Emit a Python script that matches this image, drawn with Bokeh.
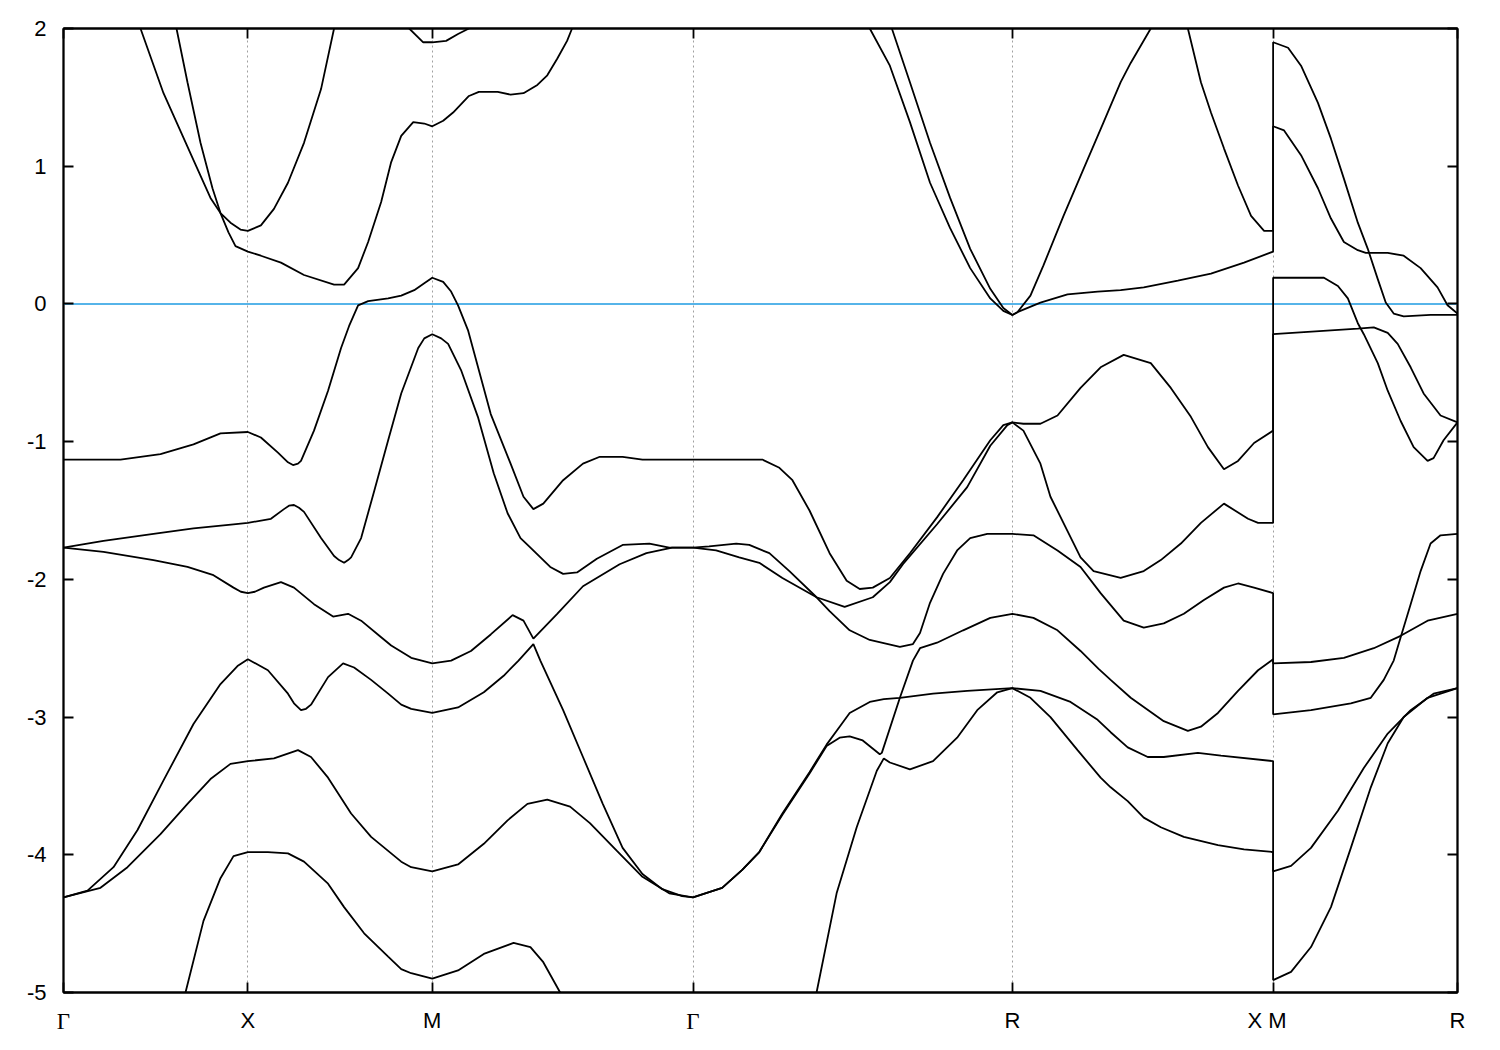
from bokeh.plotting import figure
from bokeh.models import Range1d, FixedTicker, LinearAxis, Span
from bokeh.embed import file_html
from bokeh.resources import INLINE
from bokeh.core.properties import value

# high-symmetry path (k in units of 2*pi/a)
K_PTS = [0.0, 0.5, 1.0, 1.7071, 2.5731, 3.2802, 3.7802]
K_LABELS = ["Γ", "X", "M", "Γ", "R", "X   M", "R"]
E_TICKS = [-5, -4, -3, -2, -1, 0, 1, 2]
E_MIN, E_MAX = -5.0, 2.0
E_FERMI = 0.0

band1 = [(0.0, -6.5), (0.3308, -5.0), (0.3796, -4.48), (0.4257, -4.17), (0.4610, -4.01), (0.5, -3.98),
         (0.5543, -3.98), (0.6087, -3.99), (0.6522, -4.05), (0.7174, -4.21), (0.7609, -4.38), (0.8152, -4.57),
         (0.8804, -4.74), (0.9158, -4.83), (0.9429, -4.86), (1.0, -4.90), (1.0699, -4.84), (1.1398, -4.72),
         (1.2205, -4.64), (1.2662, -4.67), (1.3011, -4.78), (1.3468, -5.0), (1.7071, -6.5), (2.0421, -5.0),
         (2.0965, -4.28), (2.1510, -3.80), (2.2055, -3.39), (2.2245, -3.30), (2.2409, -3.33), (2.2953, -3.38),
         (2.3580, -3.32), (2.4233, -3.15), (2.4778, -2.95), (2.5322, -2.82), (2.5731, -2.79), (2.6221, -2.86),
         (2.6764, -3.00), (2.7499, -3.24), (2.8124, -3.44), (2.8396, -3.51), (2.8859, -3.61), (2.9294, -3.73),
         (2.9756, -3.80), (3.0381, -3.87), (3.1306, -3.93), (3.2013, -3.96), (3.2802, -3.98), (3.2802, -4.91),
         (3.3288, -4.85), (3.3829, -4.67), (3.4370, -4.38), (3.4910, -3.95), (3.5451, -3.51), (3.5910, -3.19),
         (3.6343, -3.00), (3.6991, -2.86), (3.7802, -2.79)]

band2 = [(0.0, -4.31), (0.1003, -4.24), (0.1735, -4.09), (0.2630, -3.85), (0.3362, -3.63), (0.3986, -3.45),
         (0.4528, -3.34), (0.5, -3.32), (0.5707, -3.30), (0.6359, -3.24), (0.6712, -3.29), (0.7174, -3.44),
         (0.7799, -3.70), (0.8342, -3.87), (0.9158, -4.05), (0.9429, -4.09), (1.0, -4.12), (1.0699, -4.07),
         (1.1398, -3.92), (1.2043, -3.75), (1.2581, -3.63), (1.3119, -3.60), (1.3737, -3.65), (1.4275, -3.77),
         (1.5001, -3.97), (1.5700, -4.16), (1.6426, -4.28), (1.7071, -4.31), (1.7861, -4.24), (1.8405, -4.11),
         (1.8868, -3.98), (1.9495, -3.71), (2.0230, -3.41), (2.0693, -3.21), (2.1047, -3.15), (2.1319, -3.14),
         (2.1673, -3.17), (2.2136, -3.27), (2.2191, -3.26), (2.2681, -2.86), (2.3580, -2.83), (2.4506, -2.81),
         (2.5731, -2.79), (2.6492, -2.81), (2.7308, -2.89), (2.8043, -3.02), (2.8396, -3.11), (2.8859, -3.22),
         (2.9402, -3.29), (2.9837, -3.29), (3.0762, -3.26), (3.1388, -3.28), (3.2802, -3.32), (3.2802, -4.12),
         (3.3288, -4.08), (3.3829, -3.95), (3.4559, -3.68), (3.5261, -3.37), (3.5910, -3.12), (3.6532, -2.95),
         (3.7153, -2.83), (3.7802, -2.79)]

band3 = [(0.0, -4.31), (0.0651, -4.26), (0.1356, -4.09), (0.2007, -3.82), (0.2712, -3.46), (0.3525, -3.05),
         (0.4257, -2.76), (0.4718, -2.63), (0.5, -2.58), (0.5543, -2.66), (0.6087, -2.83), (0.6250, -2.90),
         (0.6440, -2.95), (0.6576, -2.94), (0.6712, -2.91), (0.7174, -2.71), (0.7582, -2.61), (0.7880, -2.64),
         (0.8342, -2.73), (0.8804, -2.83), (0.9158, -2.91), (0.9429, -2.94), (1.0, -2.97), (1.0699, -2.93),
         (1.1398, -2.82), (1.1936, -2.70), (1.2339, -2.59), (1.2742, -2.47), (1.2931, -2.59), (1.3549, -2.95),
         (1.4087, -3.29), (1.4624, -3.63), (1.5162, -3.95), (1.5700, -4.14), (1.6238, -4.25), (1.6775, -4.30),
         (1.7071, -4.31), (1.7861, -4.24), (1.8405, -4.11), (1.8868, -3.98), (1.9495, -3.70), (2.0230, -3.40),
         (2.0693, -3.20), (2.1047, -3.07), (2.1319, -2.97), (2.1864, -2.89), (2.2245, -2.87), (2.2681, -2.86),
         (2.3035, -2.59), (2.3226, -2.50), (2.3688, -2.46), (2.4397, -2.37), (2.5132, -2.28), (2.5731, -2.25),
         (2.6302, -2.28), (2.6955, -2.37), (2.7580, -2.52), (2.8070, -2.65), (2.8396, -2.73), (2.8940, -2.86),
         (2.9837, -3.03), (3.0490, -3.10), (3.0844, -3.07), (3.1306, -2.97), (3.1850, -2.81), (3.2394, -2.66),
         (3.2802, -2.58), (3.2802, -2.98), (3.3829, -2.95), (3.4910, -2.90), (3.5451, -2.86), (3.5802, -2.73),
         (3.6072, -2.59), (3.6261, -2.42), (3.6532, -2.18), (3.6802, -1.94), (3.7072, -1.74), (3.7342, -1.68),
         (3.7802, -1.67)]

band4 = [(0.0, -1.77), (0.1085, -1.80), (0.2440, -1.86), (0.3362, -1.91), (0.4067, -1.97), (0.4610, -2.06),
         (0.4810, -2.09), (0.5, -2.10), (0.5190, -2.09), (0.5435, -2.06), (0.5897, -2.02), (0.6250, -2.06),
         (0.6793, -2.18), (0.7310, -2.27), (0.7717, -2.25), (0.8071, -2.30), (0.8614, -2.42), (0.8886, -2.48),
         (0.9429, -2.57), (1.0, -2.61), (1.0511, -2.59), (1.1049, -2.52), (1.1586, -2.40), (1.2178, -2.26),
         (1.2474, -2.30), (1.2742, -2.43), (1.3388, -2.25), (1.4087, -2.05), (1.5081, -1.89), (1.5807, -1.81),
         (1.6506, -1.77), (1.7071, -1.77), (1.7697, -1.79), (1.8324, -1.84), (1.8868, -1.88), (1.9495, -1.99),
         (2.0421, -2.13), (2.0775, -2.23), (2.1319, -2.37), (2.1864, -2.44), (2.2681, -2.49), (2.3035, -2.47),
         (2.3226, -2.39), (2.3498, -2.17), (2.3852, -1.96), (2.4233, -1.79), (2.4587, -1.70), (2.5050, -1.67),
         (2.5731, -1.67), (2.6302, -1.68), (2.6955, -1.79), (2.7580, -1.91), (2.8124, -2.10), (2.8750, -2.30),
         (2.9294, -2.35), (2.9837, -2.32), (3.0381, -2.25), (3.0925, -2.15), (3.1469, -2.06), (3.1850, -2.03),
         (3.2285, -2.06), (3.2802, -2.10), (3.2802, -2.61), (3.3829, -2.60), (3.4721, -2.57), (3.5532, -2.50),
         (3.6261, -2.41), (3.6991, -2.30), (3.7802, -2.25)]

band5 = [(0.0, -1.77), (0.1085, -1.72), (0.2440, -1.67), (0.3525, -1.63), (0.4610, -1.60), (0.5, -1.59),
         (0.5625, -1.56), (0.5978, -1.49), (0.6114, -1.465), (0.6250, -1.46), (0.6386, -1.48), (0.6522, -1.51),
         (0.6984, -1.70), (0.7337, -1.83), (0.7473, -1.86), (0.7609, -1.88), (0.7717, -1.86), (0.7799, -1.84),
         (0.8071, -1.70), (0.8424, -1.36), (0.8804, -0.99), (0.9158, -0.65), (0.9620, -0.32), (0.9783, -0.25),
         (1.0, -0.22), (1.0242, -0.25), (1.0430, -0.29), (1.0780, -0.48), (1.1237, -0.82), (1.1667, -1.23),
         (1.2043, -1.52), (1.2393, -1.70), (1.2662, -1.77), (1.3199, -1.91), (1.3549, -1.96), (1.3925, -1.95),
         (1.4463, -1.85), (1.5162, -1.75), (1.5888, -1.74), (1.6426, -1.77), (1.7071, -1.77), (1.7507, -1.76),
         (1.8242, -1.74), (1.8596, -1.75), (1.9141, -1.81), (1.9685, -1.94), (2.0421, -2.13), (2.1183, -2.20),
         (2.1946, -2.13), (2.2409, -2.02), (2.2763, -1.89), (2.3688, -1.60), (2.4506, -1.33), (2.5132, -1.03),
         (2.5595, -0.88), (2.5731, -0.86), (2.6030, -0.92), (2.6492, -1.16), (2.6764, -1.40), (2.7227, -1.65),
         (2.7580, -1.84), (2.7934, -1.94), (2.8668, -1.99), (2.9294, -1.94), (2.9756, -1.86), (3.0300, -1.74),
         (3.0844, -1.59), (3.1469, -1.45), (3.2122, -1.56), (3.2394, -1.59), (3.2802, -1.59), (3.2802, -0.22),
         (3.5099, -0.18), (3.5532, -0.17), (3.5910, -0.21), (3.6180, -0.29), (3.6532, -0.46), (3.6883, -0.65),
         (3.7342, -0.81), (3.7802, -0.86)]

band6 = [(0.0, -1.13), (0.1546, -1.13), (0.2630, -1.09), (0.3525, -1.02), (0.4257, -0.94), (0.5, -0.93),
         (0.5353, -0.97), (0.5815, -1.08), (0.6087, -1.15), (0.6223, -1.17), (0.6359, -1.16), (0.6440, -1.14),
         (0.6793, -0.92), (0.7174, -0.63), (0.7527, -0.32), (0.7745, -0.16), (0.7989, -0.01), (0.8261, 0.02),
         (0.8804, 0.04), (0.9158, 0.06), (0.9511, 0.10), (0.9783, 0.15), (1.0, 0.19), (1.0296, 0.16),
         (1.0511, 0.09), (1.0699, -0.01), (1.0968, -0.19), (1.1586, -0.80), (1.2124, -1.16), (1.2474, -1.40),
         (1.2742, -1.49), (1.3011, -1.45), (1.3549, -1.28), (1.4087, -1.16), (1.4544, -1.11), (1.5162, -1.11),
         (1.5700, -1.13), (1.7071, -1.13), (1.8950, -1.13), (1.9413, -1.19), (1.9767, -1.28), (2.0230, -1.50),
         (2.0775, -1.81), (2.1238, -2.01), (2.1592, -2.07), (2.1946, -2.06), (2.2409, -1.99), (2.2953, -1.81),
         (2.3688, -1.55), (2.4397, -1.28), (2.5132, -0.99), (2.5486, -0.88), (2.5731, -0.86), (2.6030, -0.87),
         (2.6492, -0.87), (2.6955, -0.81), (2.7580, -0.61), (2.8124, -0.46), (2.8750, -0.37), (2.9484, -0.43),
         (3.0028, -0.61), (3.0572, -0.82), (3.1034, -1.04), (3.1469, -1.20), (3.1850, -1.14), (3.2285, -1.01),
         (3.2802, -0.92), (3.2802, 0.19), (3.4180, 0.19), (3.4559, 0.13), (3.4829, 0.04), (3.5099, -0.14),
         (3.5261, -0.22), (3.5640, -0.43), (3.5910, -0.63), (3.6261, -0.85), (3.6613, -1.04), (3.6991, -1.14),
         (3.7153, -1.12), (3.7424, -0.99), (3.7802, -0.86)]

band7 = [(0.0, 3.2), (0.3064, 2.0), (0.3362, 1.61), (0.3715, 1.17), (0.4040, 0.84), (0.4257, 0.66),
         (0.4474, 0.52), (0.4664, 0.42), (0.5, 0.38), (0.5353, 0.35), (0.5897, 0.30), (0.6522, 0.21),
         (0.7337, 0.14), (0.7609, 0.14), (0.7989, 0.26), (0.8261, 0.45), (0.8614, 0.74), (0.8886, 1.03),
         (0.9158, 1.22), (0.9484, 1.32), (0.9783, 1.31), (1.0, 1.29), (1.0296, 1.33), (1.0565, 1.39),
         (1.0995, 1.51), (1.1264, 1.54), (1.1775, 1.54), (1.2124, 1.52), (1.2474, 1.53), (1.2850, 1.59),
         (1.3119, 1.66), (1.3388, 1.78), (1.3656, 1.91), (1.3791, 2.0), (1.4544, 2.6), (1.7071, 3.2),
         (2.1047, 2.6), (2.1864, 2.0), (2.2409, 1.73), (2.2953, 1.32), (2.3498, 0.88), (2.4043, 0.55),
         (2.4587, 0.26), (2.5132, 0.04), (2.5486, -0.05), (2.5731, -0.08), (2.5867, -0.06), (2.6492, 0.01),
         (2.7227, 0.07), (2.8043, 0.09), (2.8668, 0.10), (2.9294, 0.12), (3.0218, 0.17), (3.1116, 0.22),
         (3.2013, 0.30), (3.2802, 0.38), (3.2802, 1.29), (3.3099, 1.26), (3.3559, 1.08), (3.4018, 0.84),
         (3.4370, 0.62), (3.4721, 0.45), (3.5099, 0.39), (3.5315, 0.37), (3.5910, 0.37), (3.6343, 0.35),
         (3.6802, 0.26), (3.7261, 0.12), (3.7532, -0.01), (3.7802, -0.07)]

band8 = [(0.0, 3.5), (0.2088, 2.0), (0.2712, 1.53), (0.3498, 1.06), (0.3986, 0.77), (0.4257, 0.66),
         (0.4528, 0.59), (0.4799, 0.54), (0.5, 0.53), (0.5353, 0.57), (0.5707, 0.69), (0.6087, 0.88),
         (0.6522, 1.17), (0.6984, 1.56), (0.7337, 2.0), (0.8342, 2.6), (0.9375, 2.0), (0.9755, 1.90),
         (1.0, 1.90), (1.0376, 1.91), (1.0699, 1.96), (1.0995, 2.0), (1.3199, 2.8), (1.7071, 3.5),
         (2.1319, 2.6), (2.2463, 2.0), (2.2953, 1.61), (2.3498, 1.17), (2.4043, 0.77), (2.4587, 0.40),
         (2.5132, 0.11), (2.5486, -0.03), (2.5731, -0.08), (2.5867, -0.06), (2.6221, 0.06), (2.6574, 0.28),
         (2.7118, 0.64), (2.7662, 0.98), (2.8206, 1.32), (2.8396, 1.44), (2.8668, 1.61), (2.8940, 1.75),
         (2.9484, 2.0), (2.9974, 2.3), (3.0490, 2.0), (3.0844, 1.61), (3.1116, 1.39), (3.1469, 1.13),
         (3.1850, 0.86), (3.2204, 0.64), (3.2557, 0.53), (3.2802, 0.53), (3.2802, 1.90), (3.3207, 1.86),
         (3.3559, 1.73), (3.4018, 1.46), (3.4370, 1.20), (3.4721, 0.91), (3.5099, 0.59), (3.5369, 0.40),
         (3.5640, 0.18), (3.5856, 0.01), (3.6072, -0.07), (3.6343, -0.09), (3.7072, -0.08), (3.7802, -0.08)]

BANDS = [band1, band2, band3, band4, band5, band6, band7, band8]

SANS = "Liberation Sans"
SERIF = "Liberation Serif"
FS = "22px"

# layout (pixels)
W, H = 1492, 1042
BL, BR, BT, BB = 63, 35, 28, 50

p = figure(width=W, height=H, output_backend="svg", toolbar_location=None,
           x_range=Range1d(K_PTS[0], K_PTS[-1]), y_range=Range1d(E_MIN, E_MAX),
           min_border_left=BL, min_border_right=BR, min_border_top=BT, min_border_bottom=BB,
           background_fill_color="white", border_fill_color="white")

p.outline_line_color = "black"
p.outline_line_width = 1.8

# grid: dotted verticals at interior high-symmetry points
p.xgrid.ticker = FixedTicker(ticks=K_PTS[1:-1])
p.xgrid.grid_line_color = "#a0a0a0"
p.xgrid.grid_line_dash = "2 3"
p.xgrid.grid_line_width = 1
p.ygrid.visible = False

# Fermi level
p.add_layout(Span(location=E_FERMI, dimension="width", line_color="#56B4E9",
                  line_width=2, level="underlay"))

for b in BANDS:
    ks = [pt[0] for pt in b]
    es = [pt[1] for pt in b]
    p.line(ks, es, line_color="black", line_width=1.8)

def style_axis(ax, labels=True):
    ax.axis_line_color = "black"
    ax.axis_line_width = 1.8
    ax.major_tick_in = 10
    ax.major_tick_out = 0
    ax.major_tick_line_color = "black"
    ax.major_tick_line_width = 1.8
    ax.minor_tick_line_color = None
    ax.major_label_text_font = SANS
    ax.major_label_text_font_size = FS if labels else "0px"
    ax.major_label_text_color = "black"
    if not labels:
        ax.major_label_standoff = 0

# left axis
p.yaxis.ticker = FixedTicker(ticks=E_TICKS)
style_axis(p.yaxis[0])
p.yaxis.major_label_overrides = {t: str(t) for t in E_TICKS}
p.yaxis.major_label_standoff = 17

# bottom axis (Greek point labels are drawn separately in a serif face)
p.xaxis.ticker = FixedTicker(ticks=K_PTS)
style_axis(p.xaxis[0])
p.xaxis.major_label_overrides = {k: ("" if lab == "Γ" else lab) for k, lab in zip(K_PTS, K_LABELS)}
p.xaxis.major_label_standoff = 15

# mirrored ticks (right, top)
ry = LinearAxis(ticker=FixedTicker(ticks=E_TICKS))
style_axis(ry, labels=False)
ry.major_label_overrides = {t: "" for t in E_TICKS}
p.add_layout(ry, "right")
tx = LinearAxis(ticker=FixedTicker(ticks=K_PTS))
style_axis(tx, labels=False)
tx.major_label_overrides = {k: "" for k in K_PTS}
p.add_layout(tx, "above")

# Gamma labels in serif (symbol-font look), drawn unclipped below the frame
g_k = [k for k, lab in zip(K_PTS, K_LABELS) if lab == "Γ"]
g_txt = [lab for lab in K_LABELS if lab == "Γ"]
p.text(x=g_k, y=[E_MIN] * len(g_k), text=g_txt, text_font=value(SERIF), text_font_size="23px",
       text_align="center", text_baseline="top", y_offset=16, text_color="black", level="overlay")

open("out.html", "w").write(file_html(p, INLINE))
